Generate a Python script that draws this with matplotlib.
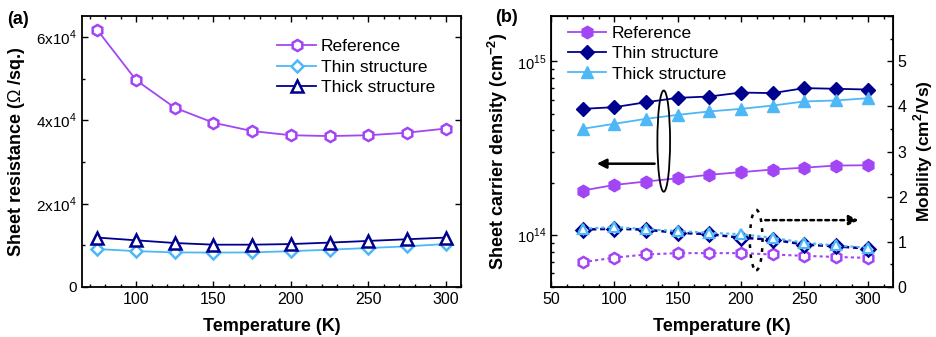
import numpy as np
import matplotlib
matplotlib.use('Agg')
import matplotlib.pyplot as plt
import matplotlib.patches as patches
from matplotlib.ticker import MultipleLocator, FixedLocator, FuncFormatter, LogLocator, NullFormatter

plt.rcParams['font.family'] = ['Liberation Sans', 'DejaVu Sans']
plt.rcParams['mathtext.fontset'] = 'custom'
plt.rcParams['mathtext.rm'] = 'Liberation Sans'
plt.rcParams['mathtext.bf'] = 'Liberation Sans:bold'

temp = [75, 100, 125, 150, 175, 200, 225, 250, 275, 300]

# (a) sheet resistance (Ohm/sq.)
res_ref = [61600, 49600, 43000, 39400, 37400, 36400, 36200, 36400, 37000, 38000]
res_thin = [9100, 8600, 8300, 8250, 8300, 8600, 8950, 9350, 9750, 10300]
res_thick = [11850, 11200, 10550, 10150, 10150, 10300, 10650, 11050, 11450, 11850]

# (b) sheet carrier density (cm^-2)
n_ref = [1.80e14, 1.94e14, 2.03e14, 2.12e14, 2.22e14, 2.30e14, 2.38e14, 2.44e14, 2.51e14, 2.52e14]
n_thin = [5.33e14, 5.45e14, 5.82e14, 6.17e14, 6.28e14, 6.62e14, 6.57e14, 7.02e14, 6.96e14, 6.89e14]
n_thick = [4.09e14, 4.37e14, 4.67e14, 4.92e14, 5.15e14, 5.33e14, 5.57e14, 5.88e14, 5.96e14, 6.14e14]

# (b) mobility (cm^2/Vs)
mu_ref = [0.55, 0.65, 0.72, 0.75, 0.75, 0.75, 0.72, 0.69, 0.665, 0.645]
mu_thin = [1.27, 1.29, 1.27, 1.20, 1.17, 1.09, 1.05, 0.94, 0.90, 0.85]
mu_thick = [1.29, 1.33, 1.28, 1.24, 1.20, 1.17, 1.09, 0.98, 0.92, 0.87]

labels = ['Reference', 'Thin structure', 'Thick structure']
purple = '#A246F5'
light = '#4DB8F5'
navy = '#00008F'

fig = plt.figure(figsize=[9.37, 3.37], dpi=100)
ax1 = fig.add_axes([82 / 937, 1 - 287 / 337, 379 / 937, 271 / 337])
ax2 = fig.add_axes([551 / 937, 1 - 287 / 337, 342 / 937, 271 / 337])


def style_ticks(ax):
    ax.tick_params(which='both', direction='in', top=True, labelsize=11.5)
    ax.tick_params(which='major', length=4, width=1)
    ax.tick_params(which='minor', length=2, width=1)
    for s in ax.spines.values():
        s.set_linewidth(1.3)


# ---- panel (a)
ax1.plot(temp, res_ref, color=purple, marker='h', ms=8, mfc='white', mew=1.8, lw=1.3, label=labels[0])
ax1.plot(temp, res_thin, color=light, marker='D', ms=6.5, mfc='white', mew=1.8, lw=1.3, label=labels[1])
ax1.plot(temp, res_thick, color=navy, marker='^', ms=8, mfc='white', mew=1.8, lw=1.3, label=labels[2])
ax1.set_xlim(65, 310)
ax1.set_ylim(0, 65000)
ax1.xaxis.set_major_locator(MultipleLocator(50))
ax1.xaxis.set_minor_locator(MultipleLocator(10))
ax1.yaxis.set_major_locator(MultipleLocator(20000))
ax1.yaxis.set_minor_locator(MultipleLocator(10000))
ax1.yaxis.set_major_formatter(FuncFormatter(lambda v, p: '0' if v == 0 else '%dx10$^4$' % round(v / 1e4)))
style_ticks(ax1)
ax1.tick_params(right=True)
ax1.tick_params(axis='y', labelsize=11)
ax1.set_xlabel('Temperature (K)', fontsize=13, fontweight='bold', labelpad=8)
ax1.set_ylabel('Sheet resistance ($\\Omega$ /sq.)', fontsize=13, fontweight='bold', labelpad=7)
ax1.legend(loc='upper right', frameon=False, fontsize=12.5, handlelength=2.2, handletextpad=0.3,
           labelspacing=0.3, bbox_to_anchor=(0.95, 0.94), borderaxespad=0)
fig.text(7 / 937, 1 - 20 / 337, '(a)', fontsize=13, fontweight='bold', va='center')

# ---- panel (b)
ax2.set_yscale('log')
ax2.plot(temp, n_ref, color=purple, marker='h', ms=9, lw=1.3, label=labels[0])
ax2.plot(temp, n_thin, color=navy, marker='D', ms=7.5, lw=1.3, label=labels[1])
ax2.plot(temp, n_thick, color=light, marker='^', ms=9, lw=1.3, label=labels[2])
ax2.set_xlim(50, 320)
ax2.set_ylim(5.0e13, 1.83e15)
ax2.xaxis.set_major_locator(MultipleLocator(50))
ax2.xaxis.set_minor_locator(MultipleLocator(12.5))
ax2.yaxis.set_major_locator(FixedLocator([1e14, 1e15]))
ax2.yaxis.set_minor_locator(LogLocator(base=10, subs=np.arange(2, 10)))
ax2.yaxis.set_minor_formatter(NullFormatter())
ax2.yaxis.set_major_formatter(FuncFormatter(lambda v, p: '10$^{%d}$' % round(np.log10(v))))
style_ticks(ax2)
ax2.tick_params(axis='y', labelsize=10.5)
ax2.set_xlabel('Temperature (K)', fontsize=13, fontweight='bold', labelpad=8)
ax2.set_ylabel('Sheet carrier density (cm$^{\\mathbf{-2}}$)', fontsize=13, fontweight='bold', labelpad=5)
ax2.legend(loc='upper left', frameon=False, fontsize=12.5, handlelength=2.2, handletextpad=0.3,
           labelspacing=0.3, bbox_to_anchor=(0.03, 0.99), borderaxespad=0)
fig.text(495 / 937, 1 - 17 / 337, '(b)', fontsize=13, fontweight='bold', va='center')

ax3 = ax2.twinx()
ax3.plot(temp, mu_ref, color=purple, marker='h', ms=8, mfc='white', mew=1.8, lw=1.5, ls=(0, (1.5, 1.5)))
ax3.plot(temp, mu_thin, color=navy, marker='D', ms=7, mfc='white', mew=1.8, lw=1.8, ls=(0, (2, 1.5)))
ax3.plot(temp, mu_thick, color=light, marker='^', ms=7, mfc='white', mew=1.6, lw=1.5, ls=(0, (1.5, 1.5)))
ax3.set_ylim(0, 6)
ax3.yaxis.set_major_locator(MultipleLocator(1))
ax3.yaxis.set_minor_locator(MultipleLocator(0.5))
ax3.yaxis.set_major_formatter(FuncFormatter(lambda v, p: '%d' % v if v <= 5 else ''))
ax3.tick_params(which='both', direction='in', labelsize=11.5)
ax3.tick_params(which='major', length=4, width=1)
ax3.tick_params(which='minor', length=2, width=1)
ax3.set_ylabel('Mobility (cm$^{\\mathbf{2}}$/Vs)', fontsize=12.5, fontweight='bold', labelpad=3)

# ellipses and arrows
ax3.add_patch(patches.Ellipse((139, 3.23), 10, 2.24, fill=False, color='black', lw=1.3))
ax3.annotate('', xy=(84, 2.73), xytext=(134, 2.73),
             arrowprops=dict(arrowstyle='-|>', color='black', lw=1.8, mutation_scale=14))
ax3.add_patch(patches.Ellipse((212, 1.04), 10, 1.34, fill=False, color='black', lw=1.8, ls=(0, (1.5, 2.5))))
ax3.annotate('', xy=(295, 1.48), xytext=(217, 1.48),
             arrowprops=dict(arrowstyle='-|>', color='black', lw=1.8, ls=(0, (1.5, 1.5)), mutation_scale=14))

plt.savefig('out.png', dpi=100)
